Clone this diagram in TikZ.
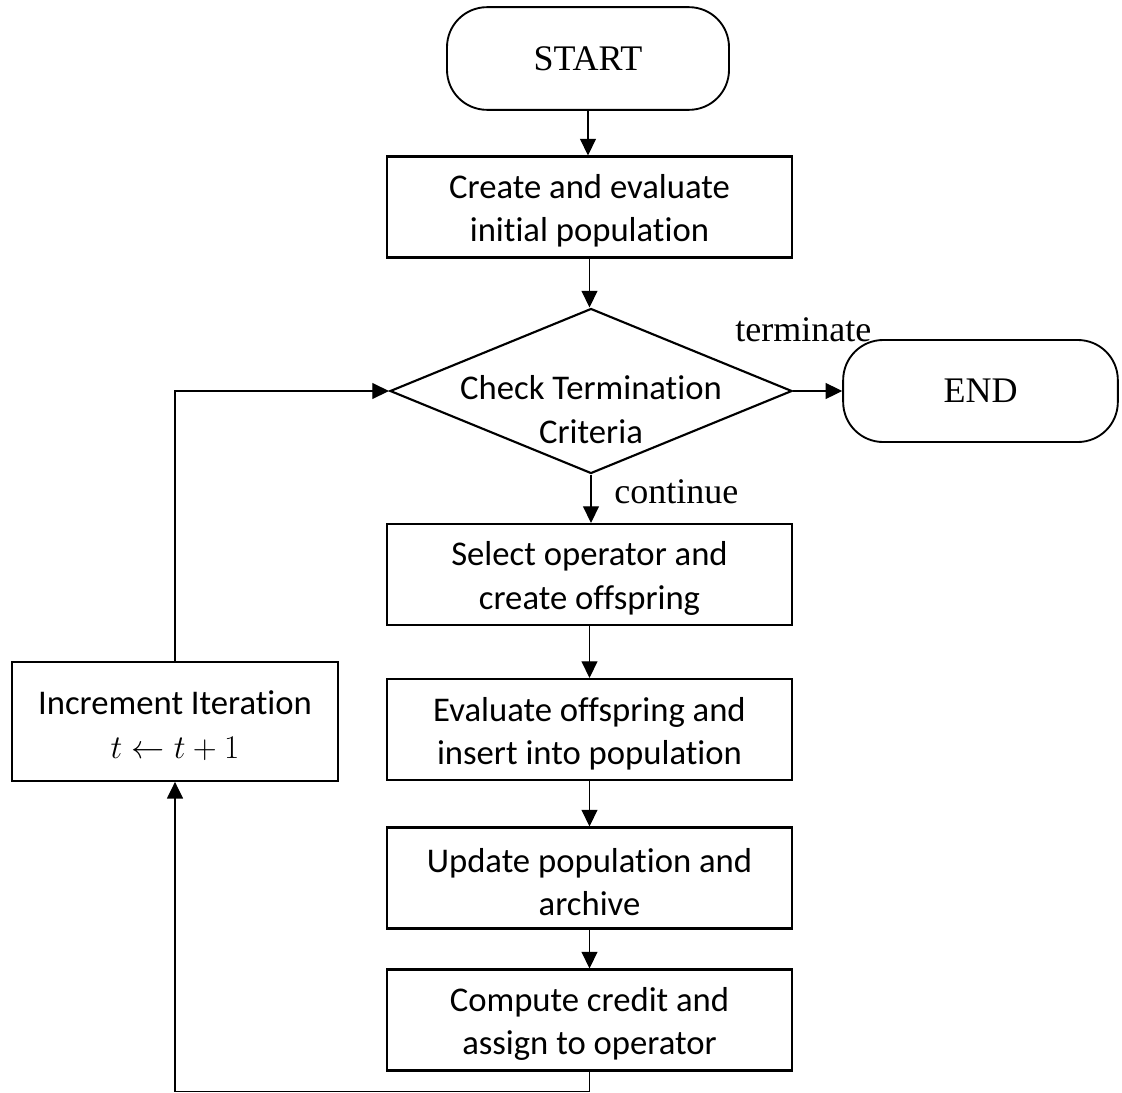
\documentclass[tikz,border=0pt]{standalone}
\usepackage{fontspec}
\setmainfont{Liberation Serif}
\newfontfamily\calfont[RawFeature={-liga;-clig;-rlig;-dlig;-calt}]{Carlito}
\usetikzlibrary{shapes.geometric,arrows.meta}
\begin{document}
\begin{tikzpicture}[x=0.75pt,y=-0.75pt,
  txt/.style={align=center,inner sep=0pt,font=\calfont\fontsize{26}{32.5}\selectfont},
  procbox/.style={draw,line width=1.6pt,rectangle,minimum width=303.75pt,minimum height=75.75pt,inner sep=0pt},
  boxtext/.style={label={[txt,yshift=-3pt]center:#1}},
  termbox/.style={draw,line width=1.4pt,rectangle,rounded corners=30pt,inner sep=0pt,font=\fontsize{27}{32}\selectfont},
  decbox/.style={draw,line width=1.6pt,diamond,inner sep=0pt,minimum width=301.5pt,minimum height=123.75pt},
  lbl/.style={inner sep=0pt,font=\fontsize{27}{32}\selectfont},
  arr/.style={line width=0.9pt,-{Triangle[length=12.5pt,width=12pt]}}]
\useasboundingbox (0,0) rectangle (1122,1093);
\node[termbox,minimum width=211.5pt,minimum height=77pt] (start) at (588,58.5) {START};
\node[procbox,boxtext={Create and evaluate\\initial population}] (b1) at (589.5,207) {};
\node[decbox,label={[txt,yshift=-14pt]center:{Check Termination\\Criteria}}] (dia) at (591,391) {};
\node[termbox,minimum width=206pt,minimum height=76.5pt] (end) at (980.5,391) {END};
\node[procbox,boxtext={Select operator and\\create offspring}] (b2) at (589.5,574.5) {};
\node[procbox,boxtext={Evaluate offspring and\\insert into population}] (b3) at (589.5,729.5) {};
\node[procbox,boxtext={Update population and\\archive}] (b4) at (589.5,878) {};
\node[procbox,boxtext={Compute credit and\\assign to operator}] (b5) at (589.5,1020) {};
\node[procbox,minimum width=244.5pt,minimum height=89pt,boxtext={Increment Iteration\\$t \leftarrow t+1$}] (inc) at (175,721.5) {};
\node[lbl,anchor=base west] (term) at (735,341) {terminate};
\node[lbl,anchor=base west] (cont) at (614,503) {continue};
\coordinate (bot) at (589.5,1091.5);
\draw[arr] (start.south) -- (start.south |- b1.north);
\draw[arr] (b1.south) -- (b1.south |- dia.north);
\draw[arr] (dia.east) -- (end.west);
\draw[arr] (dia.south) -- (dia.south |- b2.north);
\draw[arr] (b2) -- (b3);
\draw[arr] (b3) -- (b4);
\draw[arr] (b4) -- (b5);
\draw[arr] (b5.south) -- (bot) -| (inc.south);
\draw[arr] (inc.north) |- (dia.west);
\end{tikzpicture}
\end{document}
